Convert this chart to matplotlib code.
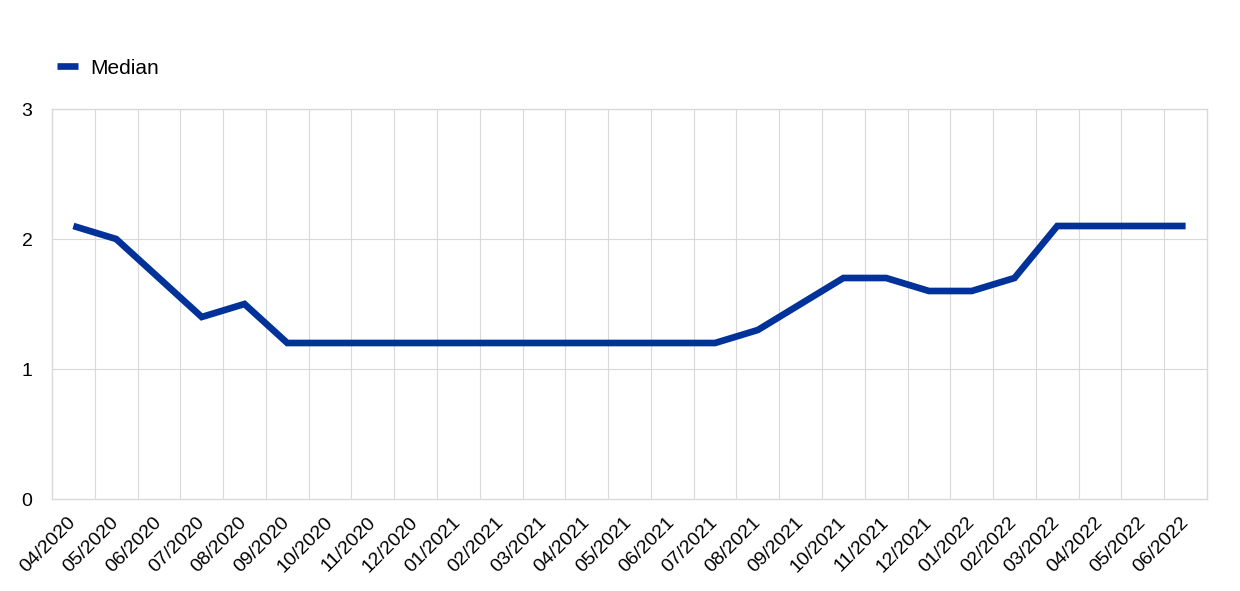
import matplotlib.pyplot as plt
from matplotlib.lines import Line2D

months = ['04/2020', '05/2020', '06/2020', '07/2020', '08/2020', '09/2020',
          '10/2020', '11/2020', '12/2020', '01/2021', '02/2021', '03/2021',
          '04/2021', '05/2021', '06/2021', '07/2021', '08/2021', '09/2021',
          '10/2021', '11/2021', '12/2021', '01/2022', '02/2022', '03/2022',
          '04/2022', '05/2022', '06/2022']
median = [2.1, 2.0, 1.7, 1.4, 1.5, 1.2,
          1.2, 1.2, 1.2, 1.2, 1.2, 1.2,
          1.2, 1.2, 1.2, 1.2, 1.3, 1.5,
          1.7, 1.7, 1.6, 1.6, 1.7, 2.1,
          2.1, 2.1, 2.1]

plt.rcParams['font.family'] = ['Liberation Sans', 'DejaVu Sans']

fig = plt.figure(figsize=(12.4, 5.91), dpi=100)
ax = fig.add_axes([52 / 1240, 1 - 499 / 591, 1155 / 1240, 390 / 591])

x = list(range(len(months)))
ax.plot(x, median, color='#003299', linewidth=4.8, solid_joinstyle='miter',
        solid_capstyle='butt', zorder=3)

ax.set_xlim(-0.5, len(months) - 0.5)
ax.set_ylim(0, 3)
ax.set_yticks([0, 1, 2, 3])

# vertical gridlines sit between categories
for b in range(1, len(months)):
    ax.axvline(b - 0.5, color='#d9d9d9', linewidth=0.8, zorder=1)
for yv in [1, 2, 3]:
    ax.axhline(yv, color='#d9d9d9', linewidth=0.8, zorder=1)

for s in ax.spines.values():
    s.set_color('#d9d9d9')
    s.set_linewidth(1.0)

ax.set_xticks(x)
ax.set_xticklabels(months, rotation=45, ha='right', va='center',
                   rotation_mode='anchor')
ax.tick_params(axis='both', length=0, labelsize=14)
ax.tick_params(axis='x', pad=15)
ax.tick_params(axis='y', pad=14)

handle = Line2D([], [], color='#003299', linewidth=4.8, solid_capstyle='butt')
fig.legend([handle], ['Median'], loc='center left',
           bbox_to_anchor=(38 / 1240, 1 - 68 / 591), frameon=False,
           fontsize=15, handlelength=1.0, handletextpad=0.6)

fig.savefig('out.png', dpi=100)
